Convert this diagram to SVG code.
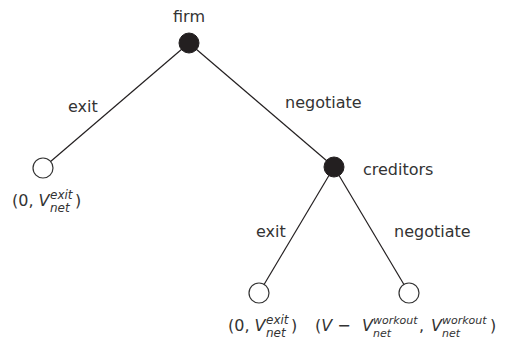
<svg xmlns="http://www.w3.org/2000/svg" width="507" height="342" viewBox="0 0 507 342">
<style>
text{font-family:"DejaVu Sans",sans-serif;fill:#333;}
.lbl{font-size:16px;}
.m{font-size:16px;}
.i{font-style:italic;}
.s{font-size:12px;font-style:italic;}
.w{font-size:11px;font-style:italic;}
.dec{fill:#231f20;stroke:#231f20;stroke-width:1;}
.leaf{fill:#fff;stroke:#333;stroke-width:1.2;}
.edge{stroke:#231f20;stroke-width:1.2;fill:none;}
</style>
<rect width="507" height="342" fill="#fff"/>
<g id="connectors">
<line class="edge" x1="189" y1="43" x2="43" y2="168"/>
<line class="edge" x1="189" y1="43" x2="334" y2="167"/>
<line class="edge" x1="334" y1="167" x2="259" y2="293"/>
<line class="edge" x1="334" y1="167" x2="409" y2="293"/>
<text class="lbl" x="68" y="112">exit</text>
<text class="lbl" x="285" y="108">negotiate</text>
<text class="lbl" x="256" y="237">exit</text>
<text class="lbl" x="394" y="237">negotiate</text>
</g>
<g id="firm">
<circle class="dec" cx="189" cy="43" r="10"/>
<text class="lbl" x="189" y="22" text-anchor="middle">firm</text>
</g>
<g id="creditors">
<circle class="dec" cx="334" cy="167" r="10"/>
<text class="lbl" x="363" y="175">creditors</text>
</g>
<g id="leaf-exit-firm">
<circle class="leaf" cx="43" cy="168" r="10"/>
<text class="m" x="12" y="206">(0, <tspan class="i">V</tspan></text>
<text class="s" x="50" y="199">exit</text>
<text class="s" x="50" y="212">net</text>
<text class="m" x="75" y="206">)</text>
</g>
<g id="leaf-exit-creditors">
<circle class="leaf" cx="259" cy="293" r="10"/>
<text class="m" x="228" y="331">(0, <tspan class="i">V</tspan></text>
<text class="s" x="266" y="324">exit</text>
<text class="s" x="266" y="337">net</text>
<text class="m" x="291" y="331">)</text>
</g>
<g id="leaf-workout">
<circle class="leaf" cx="409" cy="293" r="10"/>
<text class="m" x="315" y="331">(<tspan class="i">V</tspan> −</text>
<text class="m i" x="362" y="331">V</text>
<text class="w" x="373" y="324">workout</text>
<text class="w" x="373" y="337">net</text>
<text class="m" x="419" y="331">,</text>
<text class="m i" x="431" y="331">V</text>
<text class="w" x="442" y="324">workout</text>
<text class="w" x="442" y="337">net</text>
<text class="m" x="490" y="331">)</text>
</g>
</svg>
